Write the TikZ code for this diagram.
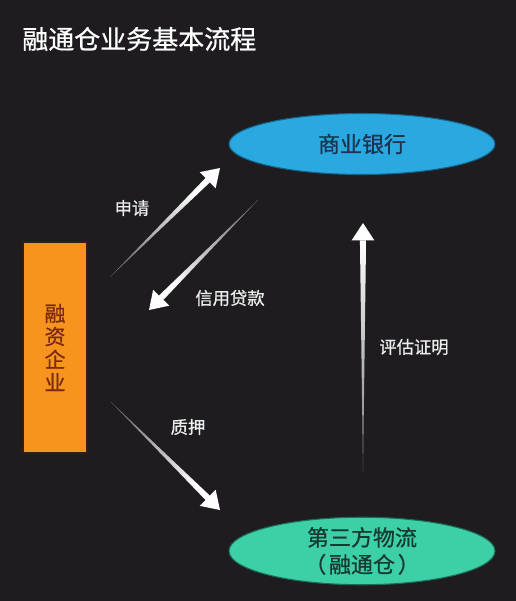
\documentclass[tikz,border=0pt]{standalone}
\usepackage{fontspec}
\setmainfont{Noto Sans CJK SC}[FakeBold=0.7]
\usetikzlibrary{shapes.geometric,calc}
\definecolor{bgc}{HTML}{1E1C1F}
\definecolor{bankblue}{HTML}{2AA9E1}
\definecolor{bankedge}{HTML}{15628A}
\definecolor{banktext}{HTML}{1C3450}
\definecolor{firmorange}{HTML}{F7941E}
\definecolor{firmedge}{HTML}{3A1C0C}
\definecolor{firmtext}{HTML}{7A2A10}
\definecolor{logigreen}{HTML}{3DCFA6}
\definecolor{logiedge}{HTML}{1A6E58}
\definecolor{logitext}{HTML}{163A30}
\definecolor{labtext}{HTML}{EDEDED}
\newcommand{\taparrow}[3]{%
  \coordinate (tapB) at ($(#2)!13pt!(#1)$);
  \shade[top color=white, middle color=white, bottom color=white!40!bgc, shading angle=#3]
    (#1) -- ($(tapB)!2.3pt!90:(#2)$) -- ($(tapB)!2.3pt!-90:(#2)$) -- cycle;
  \fill[white] (#2) -- ($(tapB)!8.5pt!90:(#2)$) -- ($(tapB)!8.5pt!-90:(#2)$) -- cycle;
}
\begin{document}
\begin{tikzpicture}[x=0.75pt,y=-0.75pt,
  titlestyle/.style={anchor=west, text=white, inner sep=0pt, font=\fontsize{19.5}{23}\selectfont},
  labelstyle/.style={text=labtext, inner sep=0pt, font=\fontsize{13}{16}\selectfont},
  bankstyle/.style={ellipse, fill=bankblue, draw=bankedge, line width=0.8pt, minimum width=199.5pt, minimum height=45.75pt, inner sep=0pt, text=banktext, font=\fontsize{16.5}{20}\selectfont},
  logistyle/.style={ellipse, fill=logigreen, draw=logiedge, line width=0.8pt, minimum width=199.5pt, minimum height=45.75pt, inner sep=0pt, text=logitext, align=center, font=\fontsize{16.5}{20.25}\selectfont},
  firmstyle/.style={rectangle, fill=firmorange, draw=firmedge, line width=1pt, minimum width=48pt, minimum height=158.25pt, inner sep=0pt, text=firmtext, align=center, font=\fontsize{15.75}{17.25}\selectfont}
]
\fill[bgc] (0,0) rectangle (516,601);
\useasboundingbox (0,0) rectangle (516,601);

\node[titlestyle] (title) at (22,39) {融通仓业务基本流程};

\node[bankstyle] (bank) at (362,144) {商业银行};
\node[logistyle] (logi) at (362,551) {第三方物流\\（\hspace{2pt}融通仓\hspace{2pt}）};
\node[firmstyle] (firm) at (55,347.5) {融\\资\\企\\业};

% arrow end points
\coordinate (a1t) at (110,277); \coordinate (a1h) at (220,168);
\coordinate (a2t) at (258,200); \coordinate (a2h) at (149,310);
\coordinate (a3t) at (363,472); \coordinate (a3h) at (363,223);
\coordinate (a4t) at (111,402); \coordinate (a4h) at (220,510);

\taparrow{a1t}{a1h}{-45}
\taparrow{a2t}{a2h}{135}
\taparrow{a3t}{a3h}{0}
\taparrow{a4t}{a4h}{-135}

\node[labelstyle] (l1) at (132,208) {申请};
\node[labelstyle] (l2) at (230,298) {信用贷款};
\node[labelstyle] (l3) at (414,347) {评估证明};
\node[labelstyle] (l4) at (188,427) {质押};
\end{tikzpicture}
\end{document}
